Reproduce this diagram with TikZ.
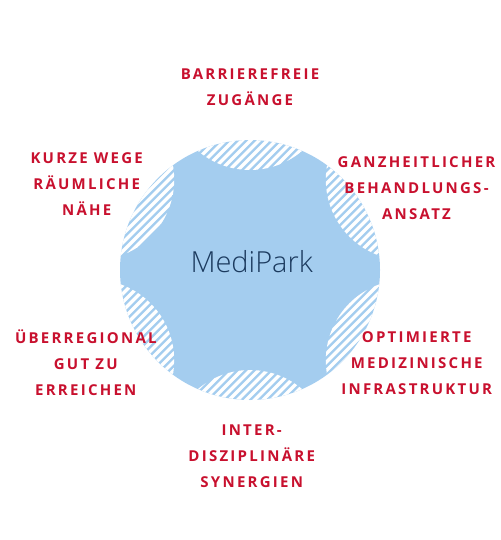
\documentclass[tikz,border=0pt]{standalone}
\usepackage{fontspec}
\usetikzlibrary{calc}
\setmainfont{Open Sans}
\newfontfamily\labfont[LetterSpace=15]{Open Sans}
\newfontfamily\lightfont{Open Sans Light}
\definecolor{mpblue}{HTML}{A4CDEF}
\definecolor{mpred}{HTML}{C8102E}
\definecolor{mpnavy}{HTML}{1B3A5E}
\begin{document}
\begin{tikzpicture}[x=1pt,y=-1pt,
  lab/.style={font=\labfont\bfseries\fontsize{15}{26}\selectfont, text=mpred, align=center, anchor=base, inner sep=0pt},
  stripe/.style={white, line width=3.4pt}]
\useasboundingbox (0,0) rectangle (500,540);
\coordinate (c) at (250,270);
\fill[mpblue] (c) circle[radius=130];
\foreach \a in {90,30,-30,-90,-150,150}{
  \begin{scope}
    \clip (c) circle[radius=130];
    \clip ($(c)+(\a:180.7)$) circle[radius=80.7];
    \foreach \k in {0,...,125}{
      \draw[stripe] (\k*8.5,0) -- ++(-540,540);
    }
  \end{scope}
}
\node[font=\lightfont\fontsize{29}{32}\selectfont, text=mpnavy, anchor=base, inner sep=0pt] (mp) at (251.7,272) {MediPark};
\node[lab] (t1) at (250,106) {BARRIEREFREIE\\ZUGÄNGE};
\node[lab] (t2) at (86.7,215.7) {KURZE WEGE\\RÄUMLICHE\\NÄHE};
\node[lab] (t3) at (416.5,219.3) {GANZHEITLICHER\\BEHANDLUNGS-\\ANSATZ};
\node[lab] (t4) at (85.8,395) {ÜBERREGIONAL\\GUT ZU\\ERREICHEN};
\node[lab] (t5) at (416.7,394.5) {OPTIMIERTE\\MEDIZINISCHE\\INFRASTRUKTUR};
\node[lab] (t6) at (251.7,487) {INTER-\\DISZIPLINÄRE\\SYNERGIEN};
\end{tikzpicture}
\end{document}
